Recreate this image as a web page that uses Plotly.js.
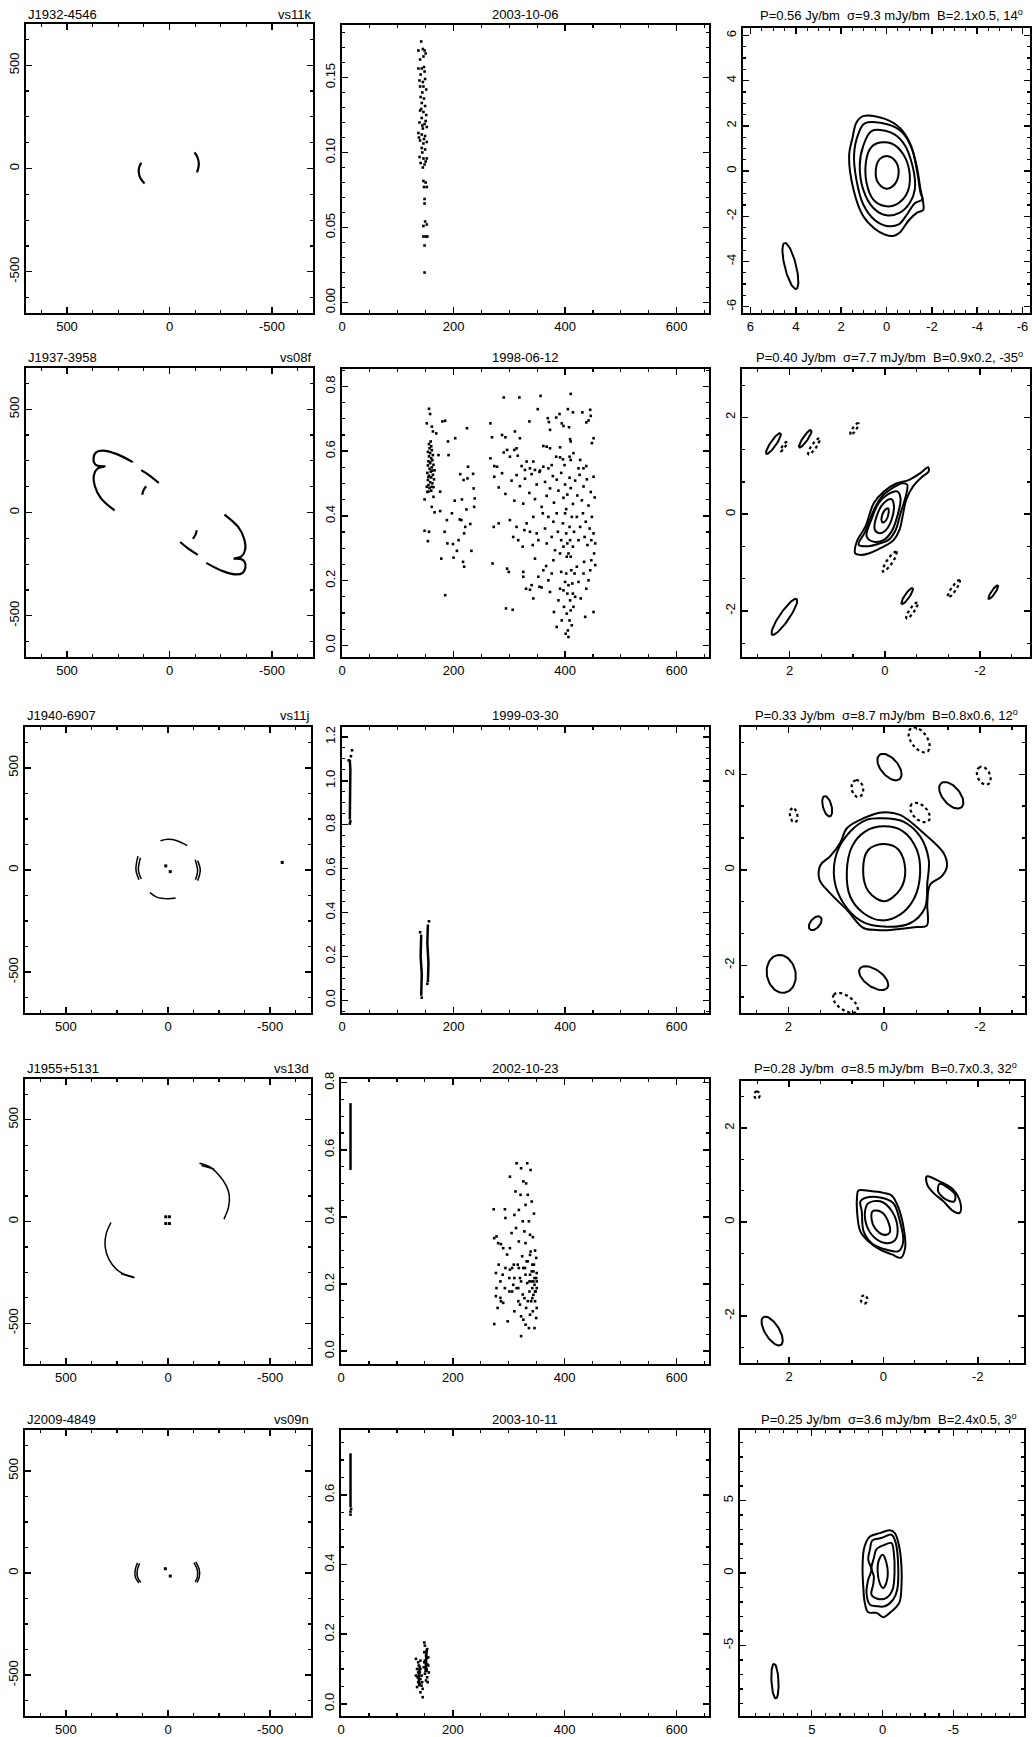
<!DOCTYPE html>
<html><head><meta charset="utf-8">
<script src="https://cdn.plot.ly/plotly-3.0.1.min.js"></script>
<style>html,body{margin:0;padding:0;background:#fff}#chart{width:1032px;height:1737px}</style>
</head><body><div id="chart"></div>
<script>
// ================= DATA =================
const sourceNames = ['J1932-4546','J1937-3958','J1940-6907','J1955+5131','J2009-4849'];
const experimentCodes = ['vs11k','vs08f','vs11j','vs13d','vs09n'];
const observationDates = ['2003-10-06','1998-06-12','1999-03-30','2002-10-23','2003-10-11'];
const peakFlux = ['0.56','0.40','0.33','0.28','0.25'];
const rmsNoise = ['9.3','7.7','8.7','8.5','3.6'];
const beamMajor = [2.1,0.9,0.8,0.7,2.4];
const beamMinor = [0.5,0.2,0.6,0.3,0.5];
const beamPA = [14,-35,12,32,3];
const beamCenterX = [4.24,2.11,2.15,2.36,7.6];
const beamCenterY = [-4.2,-2.12,-2.18,-2.32,-7.45];

// ---- UV coverage tracks ----
const uvU1 = [[138,148,150,143,122],[-122,-136,-143,-140,-134]];
const uvV1 = [[28,5,-16,-45,-73],[78,55,24,0,-19]];
const uvU2 = [[179,260,325,357,370,367,350,312],[318,352,369,364,335,268],[138,97,52],[114,127,133],
              [-179,-260,-325,-357,-370,-367,-350,-312],[-318,-352,-369,-364,-335,-268],[-138,-97,-52],[-114,-127,-133]];
const uvV2 = [[244,284,300,292,268,240,226,224],[222,212,180,127,70,10],[205,179,143],[127,107,86],
              [-244,-284,-300,-292,-268,-240,-226,-224],[-222,-212,-180,-127,-70,-10],[-205,-179,-143],[-127,-107,-86]];
const uvU3 = [[37,0,-44,-94],[88,55,0,-37],[147,157,142],[135,145,131],[-145,-158,-145],[-133,-145,-134]];
const uvV3 = [[143,150,143,119],[-111,-133,-141,-137],[68,2,-48],[60,-2,-44],[46,0,-52],[50,-4,-48]];
const uvDotU3 = [11,-11,-559];
const uvDotV3 = [20,-8,37];
const uvU4 = [[-154,-208,-252,-285,-300,-296,-274],[279,303,307,289,252,208,164],[-164,-226],[230,168]];
const uvV4 = [[286,266,225,176,127,69,12],[-5,-62,-128,-186,-235,-263,-276],[275,258],[-257,-273]];
const uvDotU4 = [11,-7,11,-7];
const uvDotV4 = [23,23,-10,-10];
const uvU5 = [[149,160,160,142],[139,150,150,133],[-136,-153,-153,-142],[-127,-143,-144,-133]];
const uvV5 = [[50,18,-20,-49],[47,16,-18,-46],[54,18,-20,-47],[51,17,-19,-44]];
const uvDotU5 = [13,-11];
const uvDotV5 = [21,-15];

// ---- visibility amplitude vs uv distance: [uvdist, amplitude] ----
const amp1 = [[142,0.174],[137,0.168],[145,0.169],[148,0.168],[140,0.162],[146,0.164],[150,0.166],[137,0.156],[143,0.156],[147,0.157],
 [139,0.148],[145,0.147],[149,0.149],[140,0.144],[146,0.144],[151,0.142],[141,0.137],[147,0.136],[143,0.133],[149,0.131],
 [140,0.128],[146,0.127],[151,0.125],[143,0.123],[139,0.120],[148,0.119],[145,0.116],[152,0.117],[137,0.113],[143,0.112],
 [149,0.111],[140,0.108],[146,0.106],[152,0.107],[143,0.103],[149,0.102],[139,0.097],[146,0.096],[152,0.096],[141,0.093],
 [148,0.092],[145,0.090],[146,0.081],[150,0.080],[147,0.077],[152,0.077],[148,0.069],[148,0.066],[149,0.054],[146,0.051],
 [152,0.052],[146,0.044],[150,0.044],[153,0.044],[148,0.038],[148,0.020],
 [144,0.140],[142,0.129],[150,0.121],[144,0.118],[138,0.110],[147,0.109],[144,0.100],[150,0.094],[141,0.152],[148,0.154]];
const amp2 = [[148,0.451],[148,0.354],[154,0.322],[156,0.351],[152,0.490],[155,0.475],[152,0.686],[156,0.731],[158,0.715],[161,0.676],
 [163,0.661],[164,0.459],[161,0.428],[166,0.411],[169,0.655],[173,0.588],[176,0.475],[176,0.415],[178,0.268],[180,0.692],
 [184,0.351],[185,0.694],[185,0.155],[188,0.387],[189,0.315],[190,0.630],[191,0.588],[197,0.408],[199,0.313],[200,0.271],
 [202,0.447],[203,0.640],[206,0.292],[209,0.325],[211,0.389],[212,0.529],[214,0.387],[215,0.451],[217,0.258],[218,0.511],
 [219,0.243],[219,0.346],[221,0.366],[223,0.420],[224,0.671],[225,0.516],[226,0.552],[230,0.375],[232,0.292],[235,0.530],
 [236,0.485],[237,0.428],[238,0.454],
 [153,0.474],[160,0.478],[157,0.486],[164,0.489],[155,0.495],[162,0.501],[158,0.504],[154,0.511],[165,0.513],[160,0.519],
 [156,0.524],[163,0.527],[153,0.533],[159,0.537],[166,0.541],[157,0.546],[161,0.550],[154,0.556],[164,0.558],[158,0.563],
 [155,0.569],[162,0.572],[160,0.578],[156,0.584],[163,0.588],[158,0.594],[154,0.598],[161,0.603],[157,0.609],[160,0.615],
 [156,0.622],[159,0.630],[158,0.566],[162,0.540],[155,0.520],[161,0.490],
 [290,0.766],[318,0.766],[356,0.771],[410,0.777],[266,0.686],[269,0.643],[287,0.650],[293,0.643],[310,0.661],[319,0.640],
 [336,0.692],[351,0.730],[369,0.702],[371,0.690],[373,0.666],[384,0.704],[390,0.715],[394,0.686],[397,0.678],[405,0.730],
 [407,0.674],[409,0.637],[410,0.630],[414,0.720],[431,0.720],[438,0.689],[442,0.695],[445,0.728],[446,0.709],[448,0.625],
 [451,0.640],[361,0.616],[367,0.614],[373,0.609],[391,0.612],
 [266,0.578],[273,0.554],[278,0.552],[290,0.596],[296,0.604],[301,0.583],[309,0.604],[313,0.609],[315,0.586],[322,0.554],
 [328,0.542],[331,0.568],[337,0.547],[343,0.568],[346,0.542],[355,0.540],[361,0.552],[370,0.547],[376,0.557],[384,0.583],
 [391,0.581],[396,0.575],[399,0.557],[408,0.583],[410,0.573],[415,0.594],[424,0.547],[427,0.573],[433,0.547],[438,0.554],
 [273,0.521],[281,0.488],[287,0.532],[293,0.468],[304,0.509],[309,0.447],[313,0.526],[319,0.492],[325,0.438],[328,0.515],
 [336,0.471],[340,0.529],[346,0.452],[349,0.497],[354,0.536],[358,0.428],[364,0.505],[367,0.462],[373,0.485],[378,0.523],
 [380,0.441],[385,0.512],[388,0.478],[393,0.533],[397,0.456],[400,0.497],[402,0.421],[404,0.466],[408,0.518],[410,0.486],
 [414,0.437],[418,0.509],[422,0.463],[426,0.527],[430,0.448],[433,0.491],[439,0.513],[442,0.432],[446,0.474],[451,0.521],
 [453,0.457],
 [272,0.366],[281,0.377],[301,0.387],[307,0.335],[313,0.366],[316,0.325],[324,0.305],[327,0.356],[331,0.377],[337,0.351],
 [342,0.310],[343,0.397],[349,0.346],[352,0.325],[360,0.408],[364,0.361],[367,0.315],[370,0.397],[376,0.335],[379,0.382],
 [382,0.294],[385,0.408],[387,0.351],[391,0.284],[393,0.325],[396,0.377],[397,0.305],[400,0.408],[402,0.346],[403,0.274],
 [404,0.315],[406,0.284],[408,0.366],[409,0.325],[410,0.274],[412,0.397],[414,0.305],[416,0.351],[421,0.397],[424,0.325],
 [427,0.366],[432,0.408],[435,0.335],[437,0.382],[440,0.310],[444,0.361],[447,0.325],[448,0.397],[451,0.346],[452,0.284],
 [454,0.315],
 [270,0.253],[296,0.237],[299,0.227],[294,0.114],[306,0.110],[325,0.227],[325,0.212],[330,0.175],[337,0.172],[340,0.186],
 [343,0.145],[346,0.268],[352,0.212],[354,0.181],[358,0.179],[361,0.232],[366,0.245],[370,0.201],[373,0.165],[376,0.222],
 [379,0.263],[380,0.103],[385,0.057],[388,0.139],[391,0.175],[393,0.227],[394,0.077],[397,0.170],[398,0.119],[400,0.196],
 [401,0.036],[402,0.222],[403,0.098],[404,0.160],[405,0.046],[406,0.186],[406,0.026],[408,0.077],[409,0.139],[410,0.108],
 [411,0.232],[412,0.062],[413,0.191],[414,0.160],[415,0.119],[417,0.222],[418,0.150],[421,0.243],[424,0.196],[428,0.145],
 [433,0.222],[434,0.258],[438,0.175],[442,0.201],[445,0.232],[447,0.263],[451,0.103],[436,0.088],[454,0.248]];
const amp3 = [[18,1.139],[16,1.112],[12,1.093],[14,0.805],[15,0.815],[140,0.31],[143,0.012],[156,0.36],[153,0.075]];
const streakX3 = [[14,15,15,14],[142,143,141,142],[154,155,153,154]];
const streakY3 = [[0.823,0.95,1.05,1.096],[0.021,0.12,0.20,0.299],[0.082,0.17,0.26,0.345]];
const amp4 = [[273,0.423],[274,0.337],[278,0.342],[281,0.322],[286,0.319],[277,0.233],[278,0.188],[277,0.164],[274,0.081],[282,0.258],
 [285,0.208],[286,0.149],[289,0.228],[290,0.144],[293,0.423],[294,0.397],[297,0.288],[298,0.089],[301,0.178],[302,0.520],
 [302,0.307],[305,0.352],[306,0.248],[308,0.198],[310,0.406],[310,0.119],[312,0.476],[313,0.367],[314,0.560],[316,0.258],
 [317,0.149],[318,0.327],[318,0.421],[320,0.218],[321,0.466],[322,0.545],[322,0.045],[324,0.283],[325,0.387],[325,0.169],
 [326,0.506],[326,0.094],[328,0.357],[329,0.248],[330,0.436],[330,0.322],[331,0.129],[333,0.203],[333,0.560],[334,0.466],
 [334,0.268],[336,0.387],[336,0.069],[337,0.178],[338,0.347],[338,0.228],[339,0.297],[340,0.149],[341,0.446],[341,0.208],
 [342,0.258],[342,0.188],[343,0.119],[344,0.238],[344,0.168],[346,0.218],[346,0.198],[347,0.149],[348,0.178],[349,0.278],
 [349,0.099],[350,0.233],[350,0.188],[350,0.129],[350,0.208],[346,0.069],
 [290,0.307],[294,0.248],[302,0.243],[306,0.178],[310,0.218],[314,0.188],[318,0.248],[320,0.139],[322,0.208],[326,0.248],
 [328,0.158],[330,0.228],[332,0.268],[334,0.149],[337,0.208],[338,0.287],[341,0.238],[342,0.158],[344,0.208],[345,0.258],
 [347,0.178],[349,0.218],[338,0.109],[330,0.079],[322,0.104],[317,0.188],[309,0.258],[301,0.218],[293,0.188],[285,0.159],
 [280,0.129],[339,0.540],[331,0.500],[343,0.340],[347,0.300],[345,0.410]];
const streakX4 = [[17,17]];
const streakY4 = [[0.540,0.739]];
const amp5 = [[134,0.129],[138,0.119],[136,0.100],[141,0.090],[134,0.081],[142,0.071],[138,0.062],[144,0.052],[136,0.048],[146,0.019],
 [142,0.033],[139,0.110],[142,0.100],[137,0.076],[141,0.057],[144,0.081],[145,0.062],[146,0.043],[138,0.090],[142,0.124],
 [149,0.176],[150,0.167],[154,0.157],[149,0.148],[152,0.138],[156,0.133],[150,0.124],[154,0.114],[148,0.105],[153,0.100],
 [157,0.090],[150,0.086],[154,0.076],[152,0.067],[155,0.062],[149,0.119],[153,0.152],[156,0.110],[153,0.095],
 [17,0.543],[17,0.552],[18,0.560]];
const streakX5 = [[17,17],[140,139,141],[151,152,153]];
const streakY5 = [[0.565,0.719],[0.05,0.08,0.11],[0.09,0.12,0.15]];

// ---- contour maps: closed contour outlines ----
const map1X = [[-0.07,-0.44,-0.52,-0.29,0,0.37,0.47,0.29],
 [0.44,-0.22,-0.74,-1.03,-0.88,-0.44,0.07,0.59,0.88,0.91,0.74],
 [0.66,-0.15,-0.74,-1.15,-1.25,-1.03,-0.59,0,0.59,1.03,1.18,1.03],
 [0.96,-0.07,-0.69,-1.13,-1.36,-1.50,-1.58,-1.24,-0.91,-0.54,0,0.52,1.03,1.33,1.43,1.25],
 [1.03,0.07,-0.59,-1.03,-1.33,-1.50,-1.62,-1.62,-1.35,-0.96,-0.59,-0.29,0.07,0.52,1.03,1.44,1.65,1.50,1.33]];
const map1Y = [[0.66,0.37,-0.22,-0.66,-0.78,-0.52,0.07,0.54],
 [1.22,1.22,0.74,-0.22,-1.03,-1.47,-1.55,-1.25,-0.52,0.37,0.96],
 [1.77,1.72,1.25,0.22,-0.81,-1.40,-1.84,-1.96,-1.62,-0.81,0.22,1.10],
 [2.11,2.06,1.72,0.96,-0.07,-0.96,-1.25,-1.43,-1.91,-2.36,-2.43,-2.17,-1.47,-0.37,0.74,1.62],
 [2.43,2.31,1.91,1.25,0.22,-0.81,-1.40,-1.72,-1.84,-2.21,-2.72,-2.87,-2.81,-2.55,-1.99,-0.88,0.66,1.47,2.14]];
const map2X = [[0.62,0.59,0.41,0.23,0.02,-0.23,-0.51,-0.76,-0.91,-0.92,-0.78,-0.59,-0.45,-0.38,-0.31,-0.19,-0.05,0.13,0.34,0.52],
 [0.55,0.41,0.23,0.06,-0.16,-0.37,-0.47,-0.44,-0.33,-0.23,-0.08,0.13,0.34],
 [0.38,0.27,0.13,-0.08,-0.26,-0.33,-0.26,-0.14,0.02,0.23],
 [0.21,0.16,0.02,-0.14,-0.19,-0.14,-0.01,0.13],
 [0.07,0.02,-0.07,-0.08,-0.03,0.04]];
const map2Y = [[-0.81,-0.57,-0.26,0.23,0.47,0.63,0.71,0.86,0.97,0.88,0.77,0.57,0.30,-0.01,-0.32,-0.53,-0.63,-0.72,-0.81,-0.84],
 [-0.63,-0.36,0.09,0.37,0.54,0.64,0.61,0.37,0.02,-0.32,-0.53,-0.61,-0.66],
 [-0.46,-0.08,0.23,0.42,0.47,0.33,-0.05,-0.36,-0.53,-0.57],
 [-0.32,-0.01,0.23,0.31,0.19,-0.12,-0.34,-0.39],
 [-0.12,0.06,0.12,0.03,-0.12,-0.17]];
const map3X = [[0,-0.30,-0.44,-0.33,0,0.33,0.44,0.33],
 [0,-0.40,-0.68,-0.75,-0.63,-0.33,0.05,0.43,0.71,0.78,0.67,0.40],
 [0.05,-0.40,-0.75,-0.93,-0.90,-0.85,-0.54,0.01,0.47,0.85,1.04,0.99,0.71,0.36],
 [0.05,-0.33,-0.82,-1.24,-1.31,-1.20,-0.96,-0.90,-0.89,-0.68,-0.13,0.15,0.43,0.78,1.13,1.35,1.33,1.13,0.92,0.78,0.43]];
const map3Y = [[0.54,0.42,0,-0.42,-0.66,-0.45,0,0.42],
 [0.91,0.80,0.42,-0.07,-0.59,-0.94,-1.06,-0.91,-0.56,-0.03,0.49,0.80],
 [1.08,1.01,0.70,0.21,-0.28,-0.80,-1.12,-1.19,-1.08,-0.70,-0.21,0.35,0.80,1.05],
 [1.20,1.15,0.77,0.35,0.07,-0.14,-0.31,-0.70,-1.17,-1.20,-1.26,-1.26,-1.22,-0.84,-0.49,-0.21,0.10,0.28,0.56,0.87,1.08]];
const map4X = [[0.23,0.04,-0.11,-0.13,0,0.18,0.25],
 [0.32,0.07,-0.18,-0.30,-0.25,-0.07,0.18,0.35,0.39],
 [0.39,0.07,-0.21,-0.35,-0.42,-0.32,-0.07,0.25,0.42,0.46,0.49],
 [0.53,0.28,0,-0.18,-0.32,-0.44,-0.46,-0.37,-0.18,0.07,0.32,0.49,0.56,0.56],
 [-0.92,-1.20,-1.48,-1.64,-1.61,-1.48,-1.27,-1.06,-0.93],
 [-1.19,-1.38,-1.52,-1.50,-1.34,-1.16]];
const map4Y = [[0.23,0.21,-0.02,-0.23,-0.27,-0.13,0.05],
 [0.40,0.44,0.23,-0.13,-0.38,-0.45,-0.34,-0.09,0.23],
 [0.51,0.52,0.40,0.01,-0.41,-0.62,-0.59,-0.45,-0.20,0.23,0.44],
 [0.67,0.66,0.62,0.56,0.30,-0.20,-0.55,-0.76,-0.69,-0.59,-0.41,-0.20,0.23,0.54],
 [0.97,0.86,0.69,0.37,0.19,0.23,0.44,0.62,0.79],
 [0.81,0.72,0.58,0.44,0.47,0.65]];
const map5X = [[0,-0.28,-0.33,-0.05,0.24,0.31],
 [0.42,-0.16,-0.64,-0.80,-0.85,-0.71,-0.28,0.31,0.78,0.66,0.61,0.78,0.61],
 [0.71,0.07,-0.64,-0.94,-1.11,-1.04,-0.75,-0.16,0.42,0.89,1.13,1.01,0.78,1.01,0.89],
 [0.89,0.19,-0.52,-0.87,-1.18,-1.34,-1.34,-1.18,-0.52,-0.05,0.42,1.01,1.25,1.36,1.41,1.32,1.13]];
const map5Y = [[1.26,0.69,-0.46,-1.03,-0.57,0.69],
 [1.65,1.95,2.06,1.38,0,-1.15,-1.72,-1.79,-1.49,-0.80,-0.23,0.34,1.03],
 [2.25,2.41,2.64,2.06,0.46,-1.15,-1.83,-2.29,-2.29,-2.18,-1.38,-0.46,0.23,0.92,1.61],
 [2.52,2.75,2.94,2.75,1.83,0.46,-0.92,-2.06,-2.75,-3.05,-2.75,-2.71,-2.06,-0.92,0.34,1.61,2.18]];

// ---- small elliptical side-lobe blobs: centre, semi-axes, position angle, negative (dashed) flag ----
const blobX2 = [2.34,1.67,2.12,1.49,0.64,-0.10,-0.47,-0.57,-1.45,-2.28];
const blobY2 = [1.46,1.56,1.40,1.40,1.76,-0.98,-1.69,-1.99,-1.54,-1.61];
const blobA2 = [0.26,0.22,0.12,0.20,0.15,0.25,0.20,0.20,0.22,0.17];
const blobB2 = [0.06,0.05,0.03,0.05,0.04,0.06,0.05,0.05,0.05,0.04];
const blobPA2 = [-35,-35,-35,-35,-35,-35,-35,-35,-35,-35];
const blobNeg2 = [0,0,1,1,1,1,0,1,1,0];
const blobX3 = [-0.11,-1.40,1.19,1.44,0.22,-0.73,-2.08,0.56,-0.75,1.89,0.81];
const blobY3 = [2.15,1.56,1.33,-1.12,-2.27,2.72,1.97,1.70,1.20,1.14,-2.79];
const blobA3 = [0.33,0.33,0.22,0.17,0.35,0.30,0.20,0.18,0.25,0.15,0.30];
const blobB3 = [0.18,0.18,0.09,0.10,0.18,0.17,0.13,0.12,0.15,0.08,0.15];
const blobPA3 = [40,40,15,-40,55,35,25,10,45,10,55];
const blobNeg3 = [0,0,0,0,0,1,1,1,1,1,1];
const blobX4 = [2.68,0.41];
const blobY4 = [2.70,-1.65];
const blobA4 = [0.08,0.09];
const blobB4 = [0.06,0.07];
const blobPA4 = [0,0];
const blobNeg4 = [1,1];

// ================= LAYOUT / DRAWING =================
const W = 1032, H = 1737;
const FONT = 'Liberation Sans, Arial, Helvetica, sans-serif';
// panel boxes [left, right, top, bottom] in page pixels
const boxes = [
 [[26,313,24,313],[342,709,25,313],[743,1030,28,313]],
 [[26,313,368,657],[342,709,369,657],[742,1030,369,657]],
 [[25,311,727,1013],[342,709,727,1013],[741,1025,727,1013]],
 [[25,311,1079,1364],[341,709,1079,1364],[741,1024,1081,1363]],
 [[25,311,1430,1716],[341,709,1430,1716],[740,1024,1430,1716]]
];
const titleY = [15,357,715,1068,1419];

const ampRangeY = [[-0.007,0.185],[-0.036,0.854],[-0.058,1.245],[-0.038,0.811],[-0.035,0.786]];
const ampDtick = [0.05,0.2,0.2,0.2,0.2];
const ampMinor = [0.01,0.05,0.05,0.05,0.05];
const ampFmt = ['.2f','.1f','.1f','.1f','.1f'];
const mapRangeX = [[6.33,-6.33],[3.0,-3.05],[2.99,-2.94],[3.02,-2.98],[10.07,-10.0]];
const mapRangeY = [[-6.28,6.33],[-2.95,3.0],[-3.0,2.99],[-3.0,3.0],[-9.86,9.86]];
const mapTicks = [[-6,-4,-2,0,2,4,6],[-2,0,2],[-2,0,2],[-2,0,2],[-5,0,5]];
const mapMinor = [0.5,2/3,2/3,2/3,1];

const uvU = [uvU1,uvU2,uvU3,uvU4,uvU5], uvV = [uvV1,uvV2,uvV3,uvV4,uvV5];
const uvDotU = [[],[],uvDotU3,uvDotU4,uvDotU5], uvDotV = [[],[],uvDotV3,uvDotV4,uvDotV5];
const amps = [amp1,amp2,amp3,amp4,amp5];
const streakX = [[],[],streakX3,streakX4,streakX5], streakY = [[],[],streakY3,streakY4,streakY5];
const mapX = [map1X,map2X,map3X,map4X,map5X], mapY = [map1Y,map2Y,map3Y,map4Y,map5Y];
const blobs = [null,[blobX2,blobY2,blobA2,blobB2,blobPA2,blobNeg2],[blobX3,blobY3,blobA3,blobB3,blobPA3,blobNeg3],[blobX4,blobY4,blobA4,blobB4,blobPA4,blobNeg4],null];

const traces = [];
const layout = {width:W,height:H,margin:{l:0,r:0,t:0,b:0},showlegend:false,
  paper_bgcolor:'#ffffff',plot_bgcolor:'rgba(0,0,0,0)',font:{family:FONT,size:13,color:'#000'},annotations:[]};

function axisCfg(domain, range, tickvals, ticktext, minorDtick, isY, anchor, fmt){
  const a = {domain:domain, range:range, anchor:anchor, showline:true, mirror:'ticks', linecolor:'#000', linewidth:2,
    ticks:'inside', ticklen:6, tickwidth:1.5, tickcolor:'#000', showgrid:false, zeroline:false,
    tickfont:{family:FONT,size:13,color:'#000'}, tickangle: isY ? -90 : 0, fixedrange:true, automargin:false,
    minor:{tickmode:'linear', tick0:0, dtick:minorDtick, ticks:'inside', ticklen:3, tickwidth:1.2, tickcolor:'#000', showgrid:false}};
  if (tickvals){ a.tickmode='array'; a.tickvals=tickvals; a.ticktext=ticktext; }
  if (fmt){ a.tickformat = fmt; }
  return a;
}
function ellipse(cx, cy, a, b, paDeg){
  const pa = paDeg*Math.PI/180, xs=[], ys=[];
  for (let k=0;k<=72;k++){ const t = 2*Math.PI*k/72;
    xs.push(cx + a*Math.cos(t)*Math.sin(pa) + b*Math.sin(t)*Math.cos(pa));
    ys.push(cy + a*Math.cos(t)*Math.cos(pa) - b*Math.sin(t)*Math.sin(pa)); }
  return [xs,ys];
}
function closed(arr){ return arr.concat([arr[0]]); }

for (let r=0;r<5;r++){
  for (let c=0;c<3;c++){
    const p = r*3+c+1, sfx = p===1 ? '' : String(p);
    const xa = 'x'+sfx, ya = 'y'+sfx;
    const b = boxes[r][c];
    const xd = [b[0]/W, b[1]/W], yd = [1-b[3]/H, 1-b[2]/H];
    let xcfg, ycfg;
    if (c===0){
      xcfg = axisCfg(xd,[700,-700],[-500,0,500],['-500','0','500'],125,false,ya);
      ycfg = axisCfg(yd,[-700,700],[-500,0,500],['-500','0','500'],125,true,xa);
      uvU[r].forEach((u,i)=>traces.push({type:'scatter',mode:'lines',x:u,y:uvV[r][i],xaxis:xa,yaxis:ya,
        line:{color:'#000',width:r<2?2.2:1.5,shape:'spline',smoothing:1},hoverinfo:'skip'}));
      if (uvDotU[r].length) traces.push({type:'scatter',mode:'markers',x:uvDotU[r],y:uvDotV[r],xaxis:xa,yaxis:ya,
        marker:{color:'#000',size:3,symbol:'square'},hoverinfo:'skip'});
    } else if (c===1){
      xcfg = axisCfg(xd,[0,658],[0,200,400,600],['0','200','400','600'],50,false,ya);
      ycfg = axisCfg(yd,ampRangeY[r],null,null,ampMinor[r],true,xa,ampFmt[r]);
      ycfg.tickmode='linear'; ycfg.tick0=0; ycfg.dtick=ampDtick[r];
      streakX[r].forEach((sx,i)=>traces.push({type:'scatter',mode:'lines',x:sx,y:streakY[r][i],xaxis:xa,yaxis:ya,
        line:{color:'#000',width:2.5},hoverinfo:'skip'}));
      traces.push({type:'scatter',mode:'markers',x:amps[r].map(d=>d[0]),y:amps[r].map(d=>d[1]),xaxis:xa,yaxis:ya,
        marker:{color:'#000',size:2.6,symbol:'square'},hoverinfo:'skip'});
    } else {
      const tv = mapTicks[r];
      xcfg = axisCfg(xd,mapRangeX[r],tv,tv.map(String),mapMinor[r],false,ya);
      ycfg = axisCfg(yd,mapRangeY[r],tv,tv.map(String),mapMinor[r],true,xa);
      mapX[r].forEach((mx,i)=>traces.push({type:'scatter',mode:'lines',x:closed(mx),y:closed(mapY[r][i]),xaxis:xa,yaxis:ya,
        line:{color:'#000',width:2,shape:'spline',smoothing:1},hoverinfo:'skip'}));
      const bl = blobs[r];
      if (bl){
        bl[0].forEach((cx,i)=>{ const e = ellipse(cx,bl[1][i],bl[2][i],bl[3][i],bl[4][i]);
          traces.push({type:'scatter',mode:'lines',x:e[0],y:e[1],xaxis:xa,yaxis:ya,
            line:{color:'#000',width:bl[5][i]?2.2:2,dash:bl[5][i]?'dot':'solid'},hoverinfo:'skip'}); });
      }
      const be = ellipse(beamCenterX[r],beamCenterY[r],beamMajor[r]/2,beamMinor[r]/2,beamPA[r]);
      traces.push({type:'scatter',mode:'lines',x:be[0],y:be[1],xaxis:xa,yaxis:ya,line:{color:'#000',width:2},hoverinfo:'skip'});
    }
    layout['xaxis'+sfx] = xcfg;
    layout['yaxis'+sfx] = ycfg;
  }
  // titles
  const ty = 1 - titleY[r]/H;
  const b0 = boxes[r][0], b1 = boxes[r][1], b2 = boxes[r][2];
  const ann = (x, anchor, text) => layout.annotations.push({xref:'paper',yref:'paper',x:x,y:ty,xanchor:anchor,yanchor:'middle',
    text:text,showarrow:false,font:{family:FONT,size:13,color:'#000'}});
  ann(b0[0]/W,'left',sourceNames[r]);
  ann(b0[1]/W,'right',experimentCodes[r]);
  ann(((b1[0]+b1[1])/2)/W,'center',observationDates[r]);
  ann((b2[1]-5)/W,'right','P='+peakFlux[r]+' Jy/bm\u00a0\u00a0\u03c3='+rmsNoise[r]+' mJy/bm\u00a0\u00a0B='+beamMajor[r].toFixed(1)+'x'+beamMinor[r].toFixed(1)+', '+beamPA[r]+'<sup>o</sup>');
}

Plotly.newPlot('chart', traces, layout, {staticPlot:true, displayModeBar:false});
</script>
</body></html>
